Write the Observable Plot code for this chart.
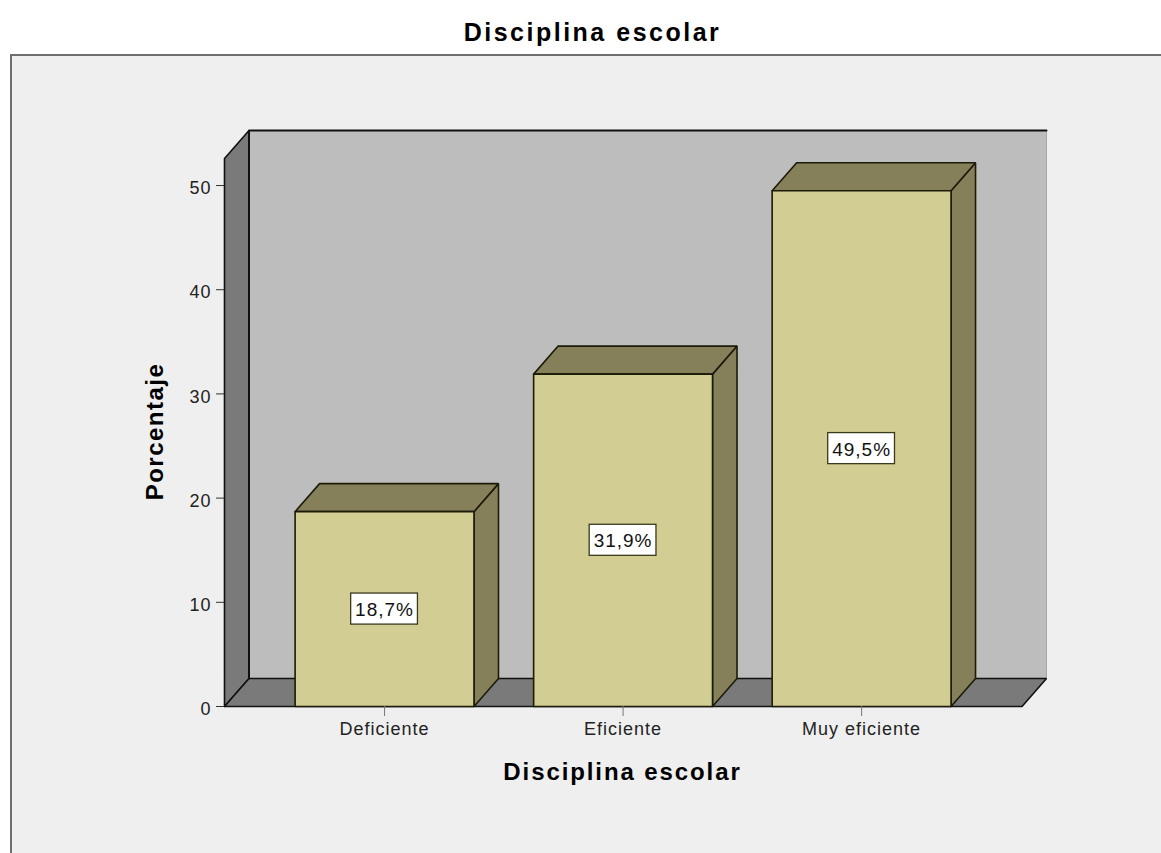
<!DOCTYPE html>
<html>
<head>
<meta charset="utf-8">
<script src="https://cdn.jsdelivr.net/npm/d3@7"></script>
<script src="https://cdn.jsdelivr.net/npm/@observablehq/plot@0.6"></script>
<style>
html,body{margin:0;padding:0;background:#fff;overflow:hidden}
#page{position:relative;width:1161px;height:853px;overflow:hidden;font-family:"Liberation Sans",Arial,sans-serif}
#panel{position:absolute;left:10px;top:54px;width:1160px;height:810px;background:#efefef;border:2px solid #6e6e6e;box-sizing:border-box}
#title{position:absolute;left:0;top:16px;width:1185px;text-align:center;font-size:25px;font-weight:bold;letter-spacing:2.5px;color:#000;line-height:32px}
#chart{position:absolute;left:0;top:0}
#chart svg{background:transparent;display:block}
.xlab text, text.xlab{letter-spacing:1.9px}
.ylab text, text.ylab{letter-spacing:1.5px}
</style>
</head>
<body>
<div id="page">
<div id="panel"></div>
<div id="title">Disciplina escolar</div>
<div id="chart"></div>
</div>
<script>
const categories = ["Deficiente", "Eficiente", "Muy eficiente"];
const percentages = [18.7, 31.9, 49.5];
const valueLabels = ["18,7%", "31,9%", "49,5%"];
const yTicks = [0, 10, 20, 30, 40, 50];

const yTop = 55.28;
const xLeft = -0.671, xRightFront = 2.6725;
const depthX = 0.1027, depthY = 2.69, halfBar = 0.375;
const boxW = 0.14, boxH = 1.49;

const poly = pts => [...pts, pts[0]].map(([x, y]) => ({x, y}));
const face = (pts, fill, stroke, width = 1.6) =>
  Plot.line(poly(pts), {x: "x", y: "y", fill, stroke, strokeWidth: width, strokeLinejoin: "miter"});

const walls = [
  face([[xLeft + depthX, depthY], [xRightFront + depthX, depthY], [xRightFront + depthX, yTop], [xLeft + depthX, yTop]], "#bdbdbd", "#a6a6a6", 1),
  face([[xLeft, 0], [xLeft + depthX, depthY], [xLeft + depthX, yTop], [xLeft, yTop - depthY]], "#7a7a7a", "#111"),
  face([[xLeft, 0], [xRightFront, 0], [xRightFront + depthX, depthY], [xLeft + depthX, depthY]], "#7a7a7a", "#111"),
  Plot.line([{x: xLeft + depthX, y: depthY}, {x: xLeft + depthX, y: yTop}, {x: xRightFront + depthX, y: yTop}], {x: "x", y: "y", stroke: "#111", strokeWidth: 2})
];

const bars = percentages.flatMap((v, i) => {
  const a = i - halfBar, b = i + halfBar;
  return [
    face([[b, 0], [b + depthX, depthY], [b + depthX, v + depthY], [b, v]], "#85805a", "#1c1a08"),
    face([[a, v], [b, v], [b + depthX, v + depthY], [a + depthX, v + depthY]], "#85805a", "#1c1a08"),
    face([[a, 0], [b, 0], [b, v], [a, v]], "#d2cd92", "#1c1a08")
  ];
});

const rows = percentages.map((v, i) => ({i, v, mid: v / 2, label: valueLabels[i]}));

const chart = Plot.plot({
  width: 1161,
  height: 853,
  marginLeft: 224,
  marginRight: 115,
  marginTop: 130,
  marginBottom: 147,
  style: {background: "transparent", fontFamily: "'Liberation Sans', Arial, sans-serif", overflow: "visible"},
  x: {domain: [xLeft, xRightFront + depthX], axis: null},
  y: {domain: [0, yTop], axis: null},
  marks: [
    ...walls,
    ...bars,
    Plot.rect(rows, {
      x1: d => d.i - boxW, x2: d => d.i + boxW,
      y1: d => d.mid - boxH, y2: d => d.mid + boxH,
      fill: "#fff", stroke: "#3a3a1c", strokeWidth: 1.3
    }),
    Plot.text(rows, {x: "i", y: "mid", text: "label", fontSize: 19, dy: 1, fill: "#111"}),
    Plot.axisY({ticks: yTicks, tickSize: 8, text: null, label: null, stroke: "#333", anchor: "left"}),
    Plot.axisY({ticks: yTicks, tickSize: 0, tickPadding: 13, dy: 3, fontSize: 18, label: null, color: "#222", anchor: "left", tickFormat: d => String(d)}),
    Plot.axisX({
      ticks: [0, 1, 2], tickSize: 10, tickPadding: 6, fontSize: 18, label: null, stroke: "#777", anchor: "bottom",
      tickFormat: d => categories[d], color: "#222"
    }),
    Plot.text(["Porcentaje"], {frameAnchor: "left", textAnchor: "middle", dx: -69, dy: 13, rotate: -90, fontSize: 24, fontWeight: "bold", fill: "#000", className: "ylab"}),
    Plot.text(["Disciplina escolar"], {frameAnchor: "bottom", textAnchor: "middle", dx: -13, dy: 73, fontSize: 24, fontWeight: "bold", fill: "#000", className: "xlab"})
  ]
});
chart.style.letterSpacing = "1px";
document.getElementById("chart").appendChild(chart);
</script>
</body>
</html>
